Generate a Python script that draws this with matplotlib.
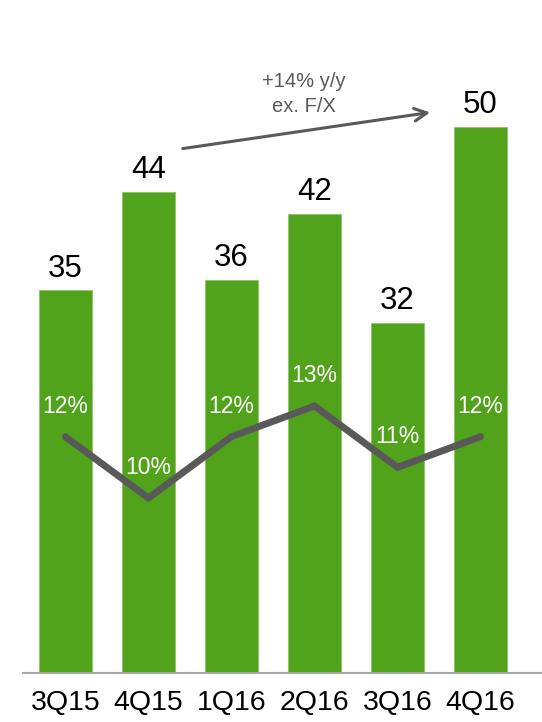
import matplotlib.pyplot as plt

# Quarterly revenue and margin
quarters = ["3Q15", "4Q15", "1Q16", "2Q16", "3Q16", "4Q16"]
revenue = [35, 44, 36, 42, 32, 50]
margin_pct = [12, 10, 12, 13, 11, 12]

bar_color = "#52A31C"
line_color = "#595959"
note_color = "#595959"

plt.rcParams['font.family'] = ['Liberation Sans', 'DejaVu Sans']

W, H = 542, 722
fig = plt.figure(figsize=(W / 100, H / 100), dpi=100)

# axes placement in pixels
base_px = 673
px_per_unit = 10.93
ymax = 60
ax_h = ymax * px_per_unit
ax = fig.add_axes([23 / W, (H - base_px) / H, 519 / W, ax_h / H])

x = list(range(len(quarters)))
ax.bar(x, revenue, width=0.63, color=bar_color, edgecolor="#8CC46A", linewidth=0.6, zorder=2)
ax.set_xlim(-0.51, 5.74)
ax.set_ylim(0, ymax)

for xi, v in zip(x, revenue):
    ax.annotate(str(v), (xi, v), xytext=(0, 5), textcoords="offset points",
                ha="center", va="bottom", fontsize=22.5, color="black")

for s in ["top", "right", "left"]:
    ax.spines[s].set_visible(False)
ax.spines["bottom"].set_color("#A6A6A6")
ax.spines["bottom"].set_linewidth(1.5)
ax.set_yticks([])
ax.set_xticks(x)
ax.set_xticklabels(quarters, fontsize=20.5)
ax.tick_params(axis="x", length=0, pad=12)

# margin line on a secondary scale
ax2 = ax.twinx()
px_per_pct = (498 - 406) / 3
lo = 10 - (base_px - 498) / px_per_pct
ax2.set_ylim(lo, lo + ax_h / px_per_pct)
ax2.plot(x, margin_pct, color=line_color, linewidth=5, solid_capstyle="round",
         solid_joinstyle="miter", zorder=3)
for xi, v in zip(x, margin_pct):
    ax2.annotate(f"{v}%", (xi, v), xytext=(0, 22), textcoords="offset points",
                 ha="center", va="center", fontsize=16.5, color="white")
ax2.axis("off")

# growth annotation
ax.annotate("", xy=(433, H - 112), xycoords="figure pixels",
            xytext=(180, H - 149), textcoords="figure pixels",
            arrowprops=dict(arrowstyle="->,head_length=0.9,head_width=0.45",
                            color=note_color, lw=2.2))
fig.text(304 / W, 1 - 94 / H, "+14% y/y\nex. F/X", ha="center", va="center",
         fontsize=14.5, color=note_color, linespacing=1.4)

fig.savefig("out.png", dpi=100)
